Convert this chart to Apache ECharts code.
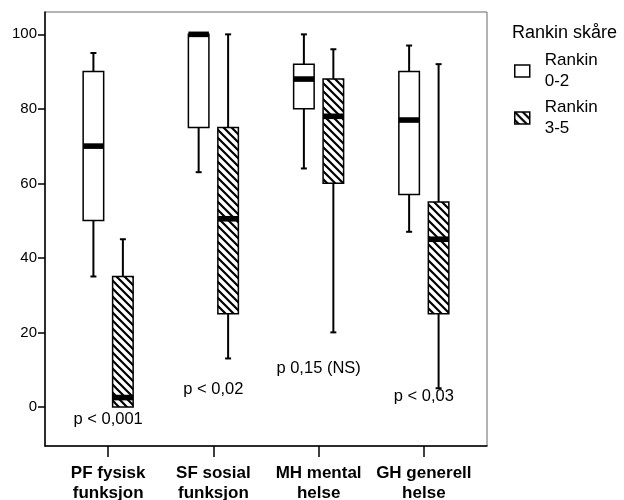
<!DOCTYPE html>
<html>
<head>
<meta charset="utf-8">
<script src="https://cdn.jsdelivr.net/npm/echarts@6/dist/echarts.min.js"></script>
<style>
  html, body { margin: 0; padding: 0; background: #fff; }
  #main { width: 624px; height: 500px; }
</style>
</head>
<body>
<div id="main"></div>
<script>
var categories = ['PF fysisk\nfunksjon', 'SF sosial\nfunksjon', 'MH mental\nhelse', 'GH generell\nhelse'];
var groupNames = ['Rankin\n0-2', 'Rankin\n3-5'];

// Rankin 0-2
var low02 = [35, 63, 64, 47];
var q1_02 = [50, 75, 80, 57];
var med02 = [70, 100, 88, 77];
var q3_02 = [90, 100, 92, 90];
var high02 = [95, 100, 100, 97];

// Rankin 3-5
var low35 = [0, 13, 20, 5];
var q1_35 = [0, 25, 60, 25];
var med35 = [2.5, 50.5, 78, 45];
var q3_35 = [35, 75, 88, 55];
var high35 = [45, 100, 96, 92];

var pTexts = ['p < 0,001', 'p < 0,02', 'p 0,15 (NS)', 'p < 0,03'];
var pTextY = [-3.5, 4.8, 10.4, 2.7];
var yTicks = [0, 20, 40, 60, 80, 100];

var FONT = 'Liberation Sans, Arial, sans-serif';
var boxWidth = 0.195;
var offsets = [-0.14, 0.14];

// diagonal hatch tile
function makeHatch() {
    var c = document.createElement('canvas');
    c.width = 8; c.height = 8;
    var g = c.getContext('2d');
    g.fillStyle = '#fff';
    g.fillRect(0, 0, 8, 8);
    g.strokeStyle = '#000';
    g.lineWidth = 2.2;
    g.beginPath();
    g.moveTo(-2, -2); g.lineTo(10, 10);
    g.moveTo(-2, 6); g.lineTo(2, 10);
    g.moveTo(6, -2); g.lineTo(10, 2);
    g.stroke();
    return c;
}
var hatch = { image: makeHatch(), repeat: 'repeat' };

function buildData(off, lo, q1, md, q3, hi) {
    return categories.map(function (c, i) {
        return [i + off, lo[i], q1[i], md[i], q3[i], hi[i]];
    });
}

function renderBox(fill) {
    return function (params, api) {
        var x = api.value(0);
        var lo = api.coord([x, api.value(1)]);
        var q1 = api.coord([x, api.value(2)]);
        var md = api.coord([x, api.value(3)]);
        var q3 = api.coord([x, api.value(4)]);
        var hi = api.coord([x, api.value(5)]);
        var w = api.size([boxWidth, 0])[0];
        var cx = lo[0];
        function line(x1, y1, x2, y2, lw) {
            return { type: 'line', shape: { x1: x1, y1: y1, x2: x2, y2: y2 }, style: { stroke: '#000', lineWidth: lw } };
        }
        var kids = [];
        if (hi[1] < q3[1] - 0.5) {
            kids.push(line(cx, hi[1], cx, q3[1], 2), line(cx - 3, hi[1], cx + 3, hi[1], 2));
        }
        if (lo[1] > q1[1] + 0.5) {
            kids.push(line(cx, q1[1], cx, lo[1], 2), line(cx - 3, lo[1], cx + 3, lo[1], 2));
        }
        kids.push({
            type: 'rect',
            shape: { x: cx - w / 2, y: q3[1], width: w, height: q1[1] - q3[1] },
            style: { fill: fill, stroke: '#000', lineWidth: 1.5 }
        });
        kids.push({
            type: 'rect',
            shape: { x: cx - w / 2, y: md[1] - 2.8, width: w, height: 5.6 },
            style: { fill: '#000' }
        });
        return { type: 'group', children: kids };
    };
}

var chart = echarts.init(document.getElementById('main'));

var option = {
    animation: false,
    title: {
        text: 'Rankin skåre',
        left: 512,
        top: 24,
        padding: 0,
        textStyle: { fontFamily: FONT, fontSize: 18, fontWeight: 'normal', color: '#000' }
    },
    legend: {
        orient: 'vertical',
        left: 514,
        top: 50,
        padding: 0,
        itemWidth: 15,
        itemHeight: 12,
        itemGap: 5,
        selectedMode: false,
        textStyle: { fontFamily: FONT, fontSize: 17, lineHeight: 21, color: '#000', padding: [0, 0, 0, 10] },
        data: [
            { name: groupNames[0], icon: 'rect', itemStyle: { color: '#fff', borderColor: '#000', borderWidth: 1.5 } },
            { name: groupNames[1], icon: 'rect', itemStyle: { color: hatch, borderColor: '#000', borderWidth: 1.5 } }
        ]
    },
    grid: {
        left: 45, top: 12, width: 442, height: 434,
        outerBoundsMode: 'none',
        containLabel: false,
        show: true, borderColor: '#666', borderWidth: 1, backgroundColor: '#fff'
    },
    xAxis: {
        type: 'value',
        min: -0.6,
        max: 3.6,
        splitLine: { show: false },
        axisLine: { onZero: false, lineStyle: { color: '#000', width: 1.5 } },
        axisTick: { customValues: [0, 1, 2, 3], length: 11, lineStyle: { color: '#000', width: 1.5 } },
        axisLabel: {
            customValues: [0, 1, 2, 3],
            formatter: function (v) { return categories[Math.round(v)]; },
            fontFamily: FONT, fontWeight: 'bold', fontSize: 17, lineHeight: 20,
            color: '#000', margin: 17
        }
    },
    yAxis: {
        type: 'value',
        min: -10.5,
        max: 106,
        splitLine: { show: false },
        axisLine: { show: true, onZero: false, lineStyle: { color: '#000', width: 1.5 } },
        axisTick: { show: true, customValues: yTicks, length: 7, lineStyle: { color: '#000', width: 1.5 } },
        axisLabel: {
            customValues: yTicks,
            fontFamily: FONT, fontSize: 15, color: '#000', margin: 8
        }
    },
    series: [
        {
            name: groupNames[0],
            type: 'custom',
            itemStyle: { color: '#fff', borderColor: '#000' },
            encode: { x: 0, y: [1, 2, 3, 4, 5] },
            renderItem: renderBox('#fff'),
            data: buildData(offsets[0], low02, q1_02, med02, q3_02, high02)
        },
        {
            name: groupNames[1],
            type: 'custom',
            itemStyle: { color: '#000', borderColor: '#000' },
            encode: { x: 0, y: [1, 2, 3, 4, 5] },
            renderItem: renderBox(hatch),
            data: buildData(offsets[1], low35, q1_35, med35, q3_35, high35)
        },
        {
            name: 'p',
            type: 'custom',
            encode: { x: 0, y: 1 },
            renderItem: function (params, api) {
                var p = api.coord([api.value(0), api.value(1)]);
                return {
                    type: 'text',
                    x: p[0], y: p[1],
                    style: {
                        text: pTexts[params.dataIndex],
                        fontFamily: FONT, fontSize: 16.5, fill: '#000',
                        align: 'center', verticalAlign: 'middle'
                    }
                };
            },
            data: pTextY.map(function (y, i) { return [i, y]; })
        }
    ]
};

option && chart.setOption(option);
</script>
</body>
</html>
